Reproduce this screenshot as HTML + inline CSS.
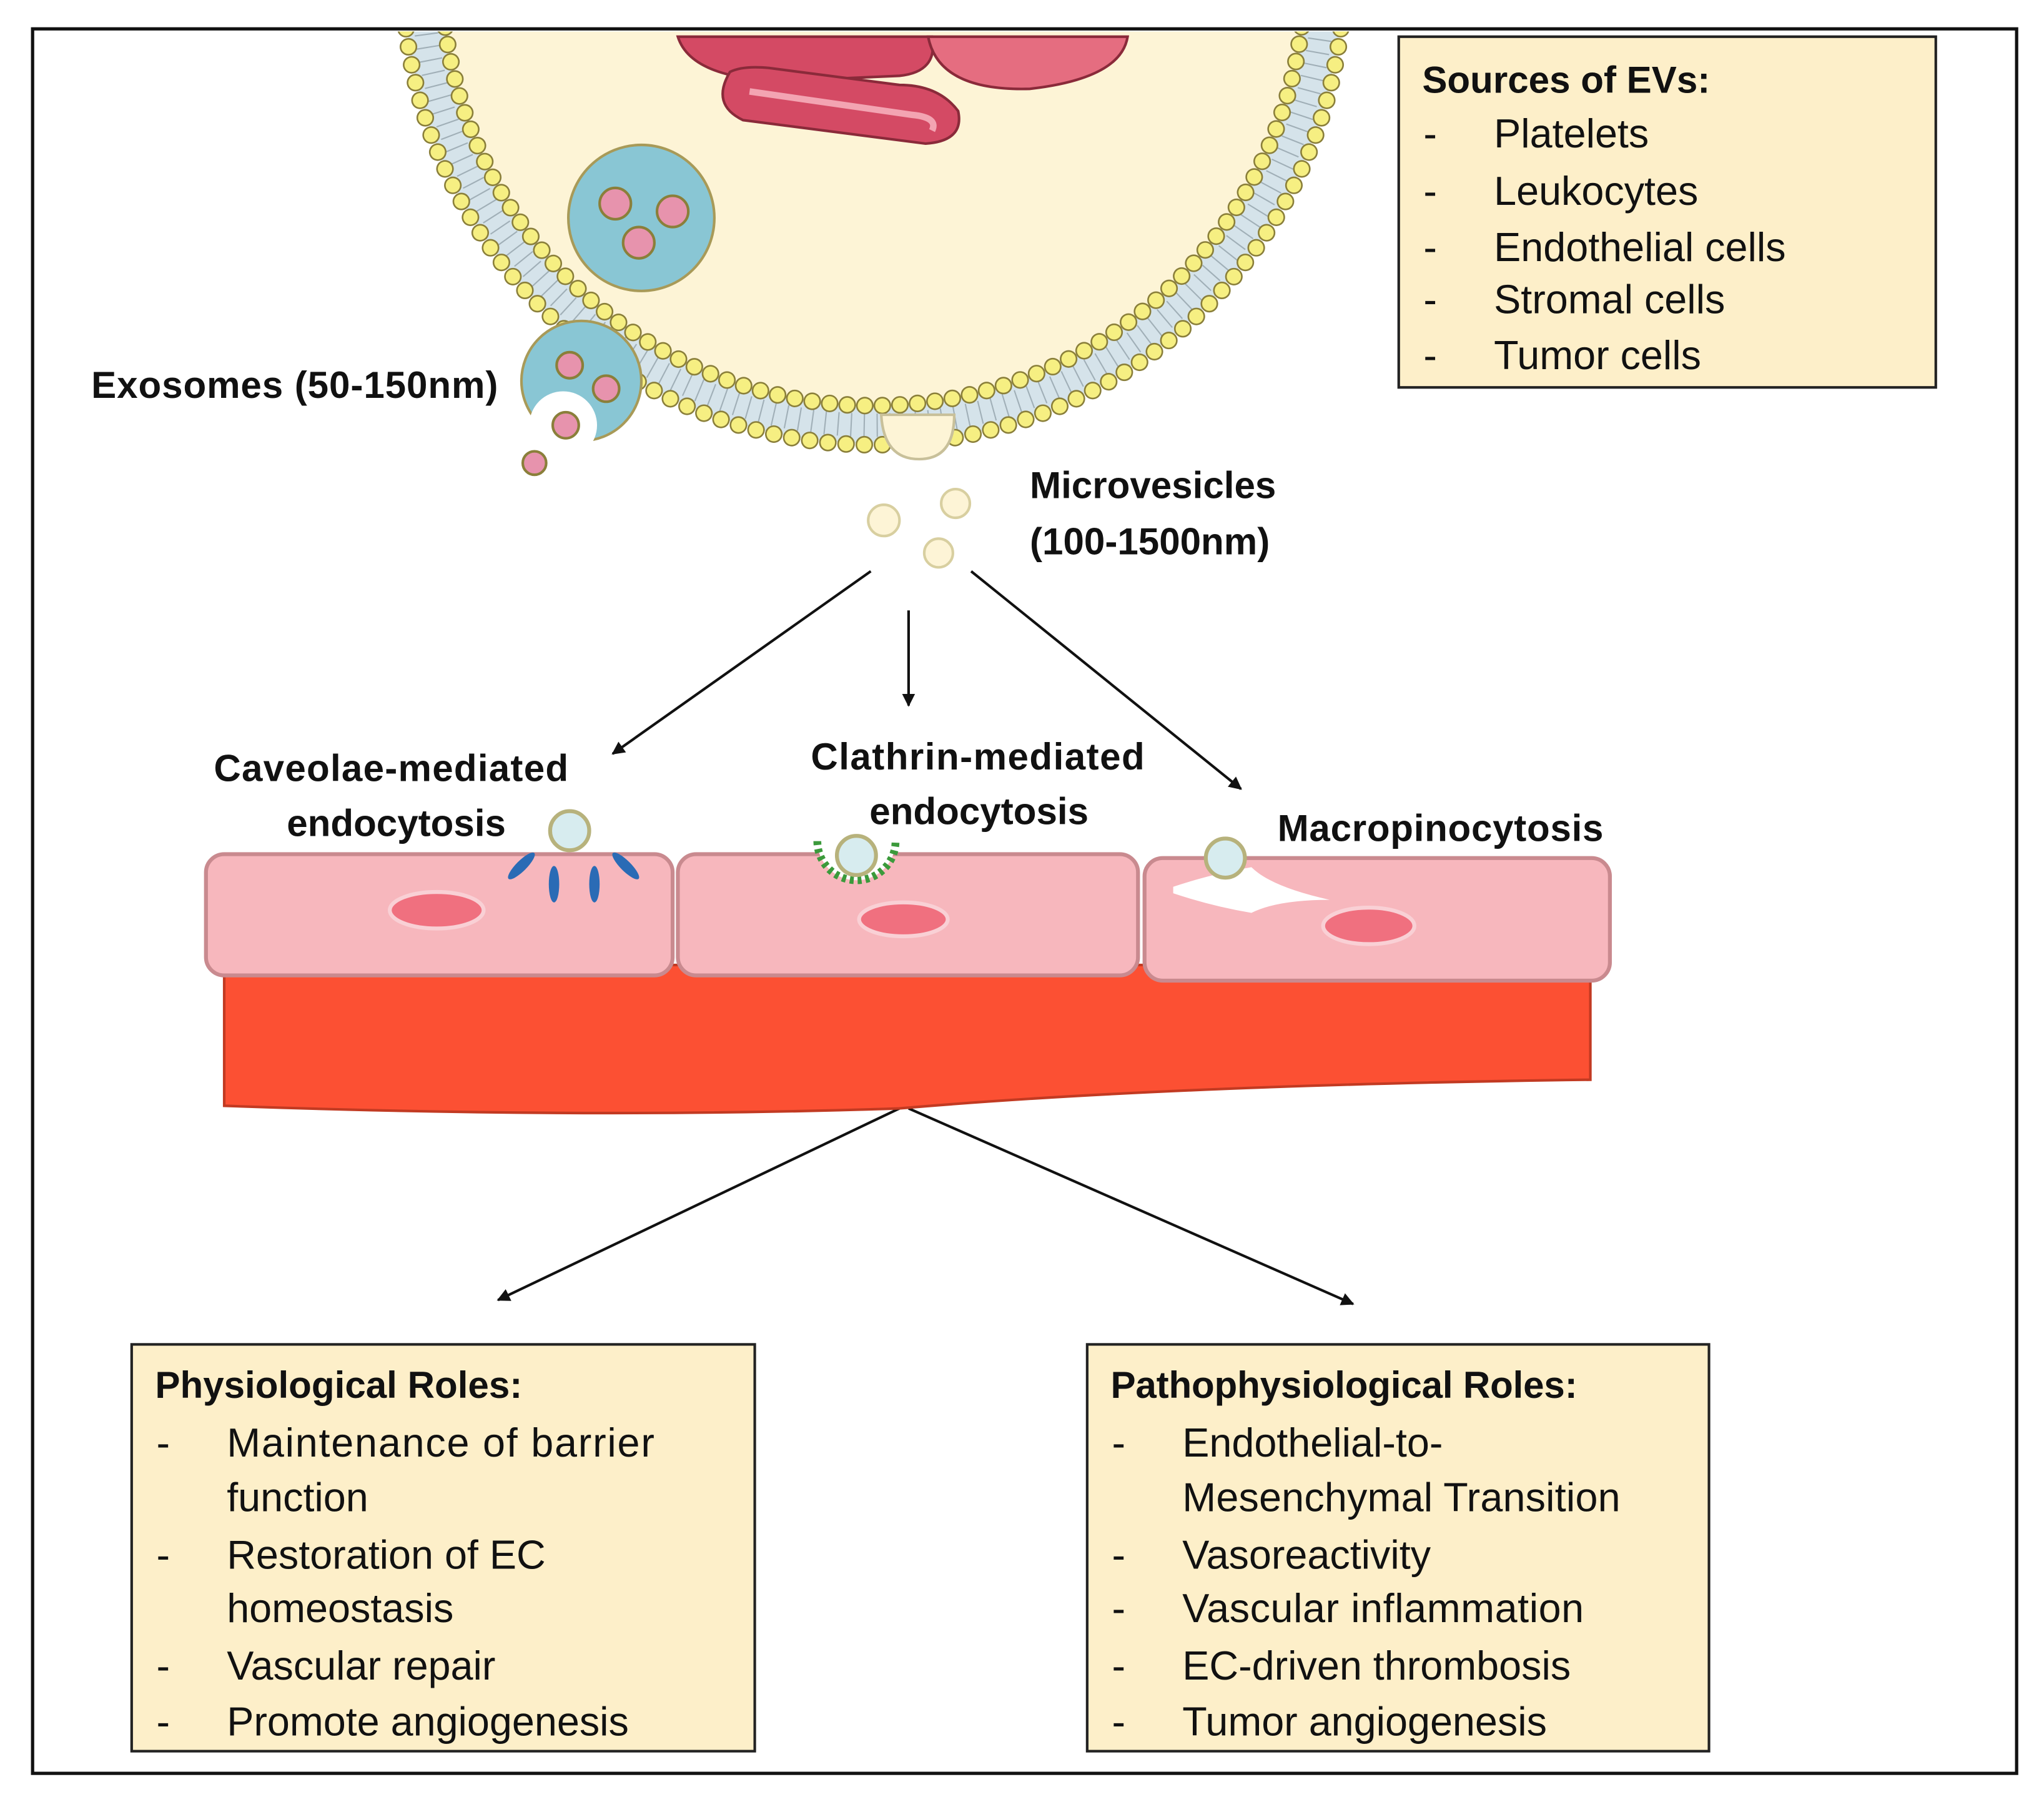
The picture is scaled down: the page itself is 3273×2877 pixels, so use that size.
<!DOCTYPE html>
<html><head><meta charset="utf-8"><style>
html,body{margin:0;padding:0;background:#fff}
svg{display:block}
text{font-family:"Liberation Sans",sans-serif;fill:#111}
.b{font-weight:bold;font-size:28.8px}
.t{font-size:31px}
</style></head><body>
<svg width="3273" height="2877" viewBox="0 0 1568 1378" xmlns="http://www.w3.org/2000/svg">
<defs>
<clipPath id="c"><rect x="27" y="24" width="1518" height="1334"/></clipPath>
<marker id="ar" markerWidth="10" markerHeight="10" refX="9" refY="5" orient="auto" markerUnits="userSpaceOnUse"><path d="M0,0 L10,5 L0,10 z" fill="#111"/></marker>
</defs>
<rect x="25" y="22" width="1522" height="1338" fill="#fff" stroke="#111" stroke-width="2.5"/>
<g clip-path="url(#c)">
<!-- cell -->
<circle cx="670" cy="-20" r="330" fill="#fdf4d6"/>
<circle cx="670" cy="-20" r="346" fill="none" stroke="#d5e3ea" stroke-width="28"/>
<circle cx="670" cy="-20" r="346" fill="none" stroke="#7d8c94" stroke-width="18" stroke-dasharray="1 9" opacity="0.6"/>
<circle cx="670" cy="-20" r="361" fill="none" stroke="#8a7f3a" stroke-width="13.5" stroke-dasharray="0 14" stroke-linecap="round"/>
<circle cx="670" cy="-20" r="361" fill="none" stroke="#f6ef82" stroke-width="11" stroke-dasharray="0 14" stroke-linecap="round"/>
<circle cx="670" cy="-20" r="331" fill="none" stroke="#8a7f3a" stroke-width="13.5" stroke-dasharray="0 13.5" stroke-linecap="round"/>
<circle cx="670" cy="-20" r="331" fill="none" stroke="#f6ef82" stroke-width="11" stroke-dasharray="0 13.5" stroke-linecap="round"/>
<!-- mitochondria -->
<path d="M520,28 Q530,60 600,62 L690,58 Q720,55 715,28 Z" fill="#d44a64" stroke="#8a2a3a" stroke-width="2"/>
<path d="M712,28 Q720,70 790,68 Q860,60 865,28 Z" fill="#e56d80" stroke="#8a2a3a" stroke-width="2"/>
<path d="M560,55 Q545,80 570,92 L710,110 Q740,108 735,85 Q720,65 690,65 L590,52 Q570,50 560,55 Z" fill="#d44a64" stroke="#8a2a3a" stroke-width="2"/>
<path d="M575,70 L700,88 Q720,90 715,100" fill="none" stroke="#f3a4b2" stroke-width="5"/>
<!-- MVB -->
<circle cx="492" cy="167" r="56" fill="#89c6d4" stroke="#a89a58" stroke-width="2"/>
<circle cx="472" cy="156" r="12" fill="#e793ad" stroke="#8a7f3a" stroke-width="2"/>
<circle cx="516" cy="162" r="12" fill="#e793ad" stroke="#8a7f3a" stroke-width="2"/>
<circle cx="490" cy="186" r="12" fill="#e793ad" stroke="#8a7f3a" stroke-width="2"/>
<!-- exosome budding -->
<circle cx="446" cy="292" r="46" fill="#89c6d4" stroke="#a89a58" stroke-width="2"/>
<circle cx="432" cy="326" r="26" fill="#fff"/>
<circle cx="437" cy="280" r="10" fill="#e793ad" stroke="#8a7f3a" stroke-width="2"/>
<circle cx="465" cy="298" r="10" fill="#e793ad" stroke="#8a7f3a" stroke-width="2"/>
<circle cx="434" cy="326" r="10" fill="#e793ad" stroke="#8a7f3a" stroke-width="2"/>
<circle cx="410" cy="355" r="9" fill="#e793ad" stroke="#8a7f3a" stroke-width="2"/>
<!-- microvesicle bud -->
<path d="M676,318 Q678,352 705,352 Q732,352 732,318 Z" fill="#fdf4d6" stroke="#c8c09a" stroke-width="2"/>
</g>
<circle cx="678" cy="399" r="12" fill="#fdf4d6" stroke="#d8cfa0" stroke-width="2"/>
<circle cx="733" cy="386" r="11" fill="#fdf4d6" stroke="#d8cfa0" stroke-width="2"/>
<circle cx="720" cy="424" r="11" fill="#fdf4d6" stroke="#d8cfa0" stroke-width="2"/>
<text class="b" x="70" y="305" textLength="312">Exosomes (50-150nm)</text>
<text class="b" x="790" y="382">Microvesicles</text>
<text class="b" x="790" y="425">(100-1500nm)</text>
<!-- sources box -->
<rect x="1073" y="28" width="412" height="269" fill="#fdefc9" stroke="#222" stroke-width="2"/>
<text class="b" x="1091" y="71">Sources of EVs:</text>
<text x="1092" y="113" class="t">-</text><text x="1146" y="113" class="t">Platelets</text>
<text x="1092" y="157" class="t">-</text><text x="1146" y="157" class="t">Leukocytes</text>
<text x="1092" y="200" class="t">-</text><text x="1146" y="200" class="t">Endothelial cells</text>
<text x="1092" y="240" class="t">-</text><text x="1146" y="240" class="t">Stromal cells</text>
<text x="1092" y="283" class="t">-</text><text x="1146" y="283" class="t">Tumor cells</text>
<!-- arrows -->
<g stroke="#111" stroke-width="2" marker-end="url(#ar)">
<line x1="668" y1="438" x2="470" y2="578"/>
<line x1="697" y1="468" x2="697" y2="541"/>
<line x1="745" y1="438" x2="952" y2="605"/>
<line x1="690" y1="850" x2="382" y2="997"/>
<line x1="697" y1="850" x2="1038" y2="1000"/>
</g>
<text class="b" x="164" y="599" textLength="272">Caveolae-mediated</text>
<text class="b" x="220" y="641">endocytosis</text>
<text class="b" x="622" y="590" textLength="256">Clathrin-mediated</text>
<text class="b" x="667" y="632">endocytosis</text>
<text class="b" x="980" y="645" textLength="250">Macropinocytosis</text>
<!-- tissue -->
<path d="M172,740 L1220,740 L1220,828 Q900,832 690,850 Q450,858 172,848 Z" fill="#fc5033" stroke="#c23a22" stroke-width="2"/>
<!-- cells -->
<rect x="158" y="655" width="358" height="93" rx="14" fill="#f7b7bd" stroke="#c98a8f" stroke-width="3"/>
<rect x="520" y="655" width="353" height="93" rx="14" fill="#f7b7bd" stroke="#c98a8f" stroke-width="3"/>
<rect x="878" y="658" width="357" height="94" rx="14" fill="#f7b7bd" stroke="#c98a8f" stroke-width="3"/>
<ellipse cx="335" cy="698" rx="36" ry="14" fill="#f0707f" stroke="#f9d0d5" stroke-width="3"/>
<ellipse cx="693" cy="705" rx="34" ry="13" fill="#f0707f" stroke="#f9d0d5" stroke-width="3"/>
<ellipse cx="1050" cy="710" rx="35" ry="14" fill="#f0707f" stroke="#f9d0d5" stroke-width="3"/>
<!-- caveolae -->
<circle cx="437" cy="637" r="15" fill="#d7ecef" stroke="#b7b27c" stroke-width="3"/>
<g fill="#2a6bb5"><ellipse cx="400" cy="664" rx="4" ry="14" transform="rotate(45 400 664)"/><ellipse cx="425" cy="678" rx="4" ry="14"/><ellipse cx="456" cy="678" rx="4" ry="14"/><ellipse cx="480" cy="664" rx="4" ry="14" transform="rotate(-45 480 664)"/></g>
<!-- clathrin -->
<path d="M627,645 A30,30 0 0 0 687,645" fill="#fff" stroke="#3b9a3b" stroke-width="6" stroke-dasharray="3 3"/>
<circle cx="657" cy="656" r="15" fill="#d7ecef" stroke="#b7b27c" stroke-width="3"/>
<!-- macropino -->
<path d="M900,680 Q930,670 960,665 Q975,680 1020,690 Q980,690 960,700 Q930,695 900,685Z" fill="#fff"/>
<circle cx="940" cy="658" r="15" fill="#d7ecef" stroke="#b7b27c" stroke-width="3"/>
<!-- roles boxes -->
<rect x="101" y="1031" width="478" height="312" fill="#fdefc9" stroke="#222" stroke-width="2"/>
<text class="b" x="119" y="1072">Physiological Roles:</text>
<text class="t" x="120" y="1117">-</text><text class="t" x="174" y="1117" textLength="328">Maintenance of  barrier</text>
<text class="t" x="174" y="1159">function</text>
<text class="t" x="120" y="1203">-</text><text class="t" x="174" y="1203">Restoration of EC</text>
<text class="t" x="174" y="1244">homeostasis</text>
<text class="t" x="120" y="1288">-</text><text class="t" x="174" y="1288">Vascular repair</text>
<text class="t" x="120" y="1331">-</text><text class="t" x="174" y="1331">Promote angiogenesis</text>
<rect x="834" y="1031" width="477" height="312" fill="#fdefc9" stroke="#222" stroke-width="2"/>
<text class="b" x="852" y="1072" textLength="358">Pathophysiological Roles:</text>
<text class="t" x="853" y="1117">-</text><text class="t" x="907" y="1117">Endothelial-to-</text>
<text class="t" x="907" y="1159" textLength="336">Mesenchymal Transition</text>
<text class="t" x="853" y="1203">-</text><text class="t" x="907" y="1203">Vasoreactivity</text>
<text class="t" x="853" y="1244">-</text><text class="t" x="907" y="1244" textLength="308">Vascular inflammation</text>
<text class="t" x="853" y="1288">-</text><text class="t" x="907" y="1288">EC-driven thrombosis</text>
<text class="t" x="853" y="1331">-</text><text class="t" x="907" y="1331">Tumor angiogenesis</text>
</svg>
</body></html>
